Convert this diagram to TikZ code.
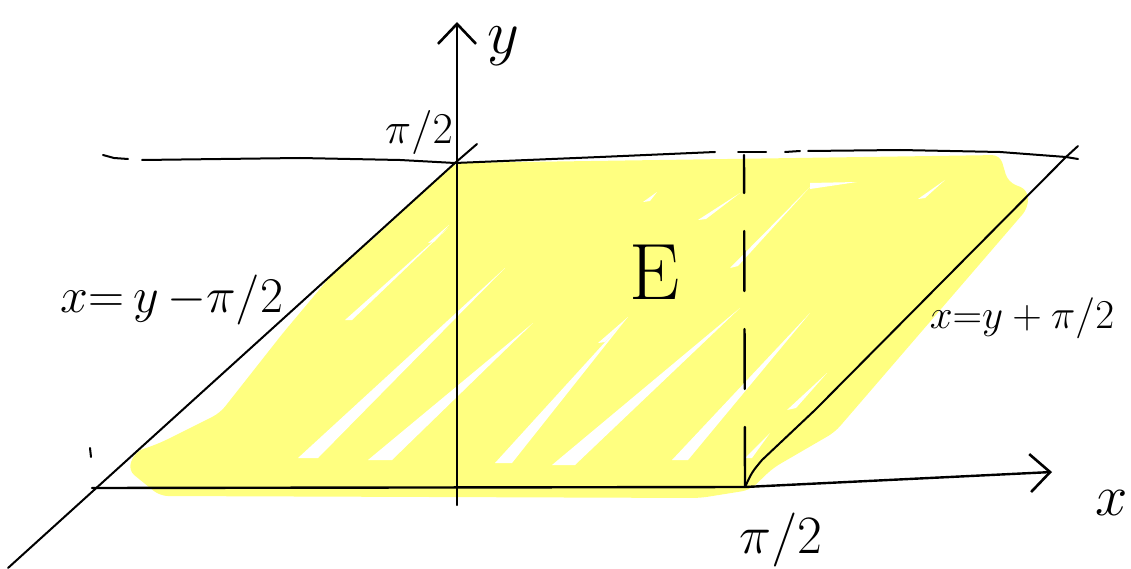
\RequirePackage{fix-cm}
\documentclass[tikz,border=0pt]{standalone}
\usepackage{amsmath}
\usepackage{xcolor}
\usepackage{tikz}
\usetikzlibrary{arrows.meta,positioning,calc}
\definecolor{marker}{HTML}{FFFF80}

\begin{document}
\begin{tikzpicture}[
  x=1pt, y=-1pt,
  line cap=round, line join=round,
  >={Straight Barb[length=20pt,width=38pt,line width=2.6pt]},
  axis/.style={draw, line width=2.4pt},
  bound/.style={draw, line width=2pt},
  vdash/.style={draw, line width=2.4pt, dash pattern=on 60pt off 38pt},
  gap/.style={fill=white},
  lbl/.style={inner sep=0pt, font=\fontsize{#1}{#1}\selectfont}]
\useasboundingbox (0,0) rectangle (1131,569);
% points of the sketch
\coordinate (O)  at (457,487);
\coordinate (A)  at (455,163);
\coordinate (P)  at (745,487);
\coordinate (Pt) at (744,155);
\coordinate (B)  at (1066,157);
\coordinate (L)  at (8,568);
\coordinate (xs) at (92,488);
\coordinate (xe) at (1052,472);
\coordinate (ys) at (457,505);
\coordinate (ye) at (457,22);
% shaded region E
\fill[marker, rounded corners=8pt]
  (128,470) -- (135,452) -- (160,443) -- (220,413) -- (283,333) -- (340,265)
  -- (370,242) -- (A) -- (1000,155) -- (1008,182) -- (1028,190) -- (1028,208)
  -- (835,432) -- (773,468) -- (750,490) -- (700,498) -- (160,496) -- cycle;
% gaps left by the marker
\fill[gap] (345,320) -- (352,320) -- (448,228) -- cycle;
\fill[gap] (298,458) -- (318,458) -- (505,268) -- cycle;
\fill[gap] (368,460) -- (392,460) -- (533,323) -- cycle;
\fill[gap] (495,463) -- (512,463) -- (627,318) -- cycle;
\fill[gap] (552,465) -- (575,465) -- (740,308) -- cycle;
\fill[gap] (672,460) -- (688,460) -- (810,313) -- cycle;
\fill[gap] (787,410) -- (796,408) -- (827,373) -- cycle;
\fill[gap] (745,458) -- (752,458) -- (770,433) -- cycle;
\fill[gap] (698,220) -- (706,219) -- (740,193) -- cycle;
\fill[gap] (730,268) -- (738,266) -- (810,187) -- cycle;
\fill[gap] (810,183) -- (810,189) -- (857,182) -- cycle;
\fill[gap] (918,199) -- (925,198) -- (945,180) -- cycle;
\fill[gap] (643,202) -- (650,201) -- (657,192) -- cycle;
\fill[gap] (428,243) -- (434,242) -- (449,225) -- cycle;
\fill[gap] (598,343) -- (605,342) -- (628,317) -- cycle;
% axes
\draw[axis, ->] (xs) -- (P) -- (xe);
\draw[axis, ->] (ys) -- (ye);
% y = pi/2
\draw[bound] (103,155) -- (114,158) -- (128,159);
\draw[bound] (142,160) -- (300,158) -- (400,160) -- (A) -- (600,157) -- (715,152);
\draw[bound] (738,152) -- (766,152);
\draw[bound] (785,152) -- (800,151);
\draw[bound] (808,151) -- (900,150) -- (1000,152) -- (B) -- (1078,159);
% x = y - pi/2 and x = y + pi/2
\draw[bound] (L) -- (A) -- ++(22,-19);
\draw[bound] (P) .. controls (752,472) .. (762,460) -- (815,410) -- (B) -- ++(12,-11);
\draw[bound] (90,448) -- (91,457);
% x = pi/2
\draw[vdash] (P) -- (Pt);
% labels
\node[lbl=62] (ylab) at (503,46) {$y$};
\node[lbl=58] (xlab) at (1112,503) {$x$};
\node[lbl=44, above left=8pt and 2pt of A] (pitop) {$\pi/2$};
\node[lbl=54, below right=26pt and -6pt of P] (pibot) {$\pi/2$};
\node[lbl=80] (Elab) at (655,272) {E};
\node[lbl=50] (leftlab) at (172,300) {$x{=}\,y\,{-}\pi/2$};
\node[lbl=41] (rightlab) at (1022,318) {$x{=}y+\pi/2$};
\end{tikzpicture}
\end{document}
